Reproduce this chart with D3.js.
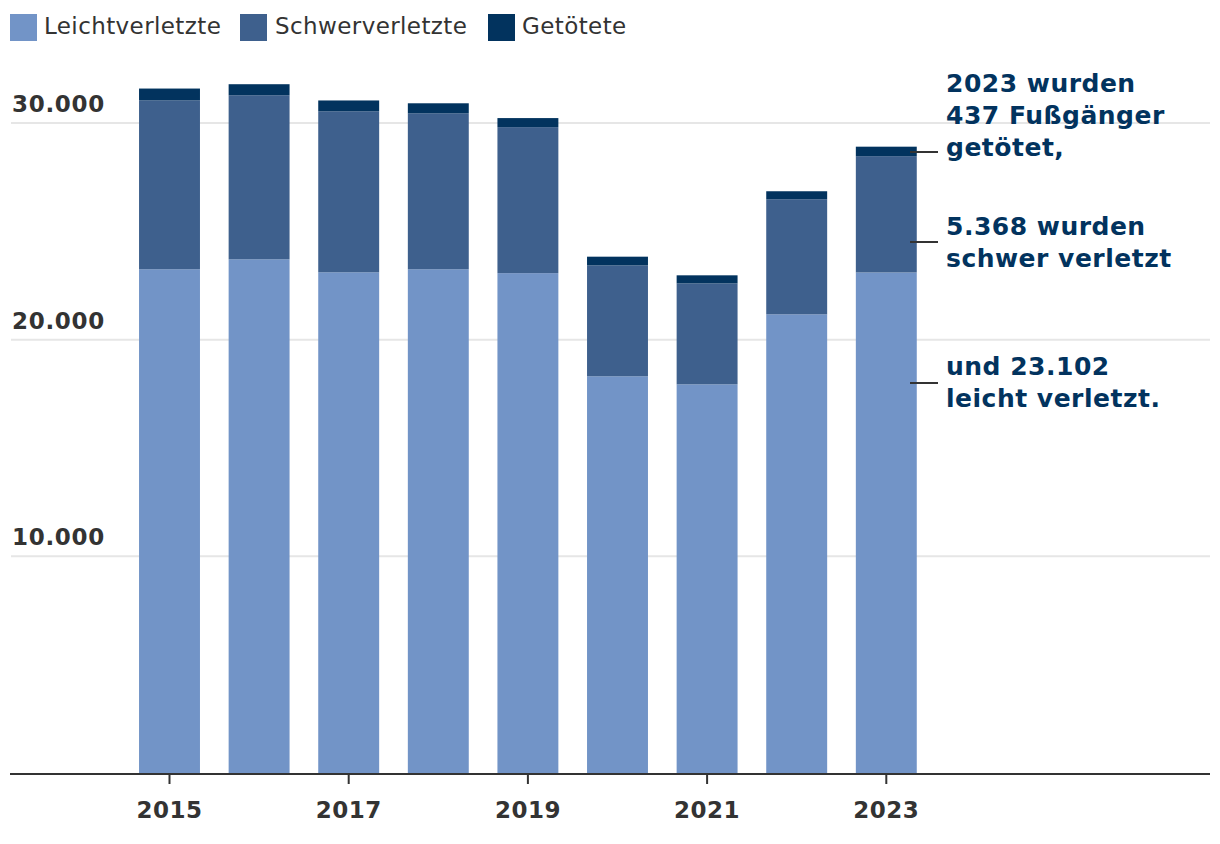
<!DOCTYPE html>
<html>
<head>
<meta charset="utf-8">
<script src="https://cdn.jsdelivr.net/npm/d3@7"></script>
<style>
  body { margin: 0; background: #fff; }
  svg { font-family: "DejaVu Sans", Verdana, sans-serif; }
</style>
</head>
<body>
<svg id="chart"></svg>
<script>
// Fußgänger-Verunglückte in Deutschland, 2015-2023
const years = [2015, 2016, 2017, 2018, 2019, 2020, 2021, 2022, 2023];
const leicht = [23250, 23710, 23110, 23250, 23070, 18310, 17940, 21170, 23102];
const schwer = [7800, 7570, 7430, 7200, 6740, 5120, 4660, 5310, 5368];
const getoetet = [540, 510, 500, 460, 417, 400, 370, 370, 437];
const seriesNames = ['Leichtverletzte', 'Schwerverletzte', 'Getötete'];
const yTicks = [10000, 20000, 30000];
const xTickYears = [2015, 2017, 2019, 2021, 2023];

const colors = ['#7294c7', '#3e608d', '#02335e'];
const ink = '#333333';
const navy = '#02335e';

const width = 1220, height = 844;
const svg = d3.select('#chart').attr('width', width).attr('height', height);

const table = years.map((y, i) => ({ year: y, s0: leicht[i], s1: schwer[i], s2: getoetet[i] }));
const stack = d3.stack().keys(['s0', 's1', 's2']);
const stacked = stack(table);

const xScale = d3.scaleBand()
    .domain(years)
    .range([124.7, 931.1])
    .paddingInner(0.32)
    .paddingOuter(0.16);

const yScale = d3.scaleLinear()
    .domain([0, 30000])
    .range([773, 123]);

// gridlines + y labels
const grid = svg.append('g');
grid.selectAll('line')
  .data(yTicks)
  .join('line')
    .attr('x1', 11).attr('x2', 1210)
    .attr('y1', d => yScale(d)).attr('y2', d => yScale(d))
    .attr('stroke', '#e6e6e6').attr('stroke-width', 2);

const fmt = d3.formatLocale({ decimal: ',', thousands: '.', grouping: [3], currency: ['', '€'] }).format(',');
grid.selectAll('text')
  .data(yTicks)
  .join('text')
    .attr('x', 12)
    .attr('y', d => yScale(d) - 11)
    .attr('font-size', 23).attr('font-weight', 'bold').attr('fill', ink)
    .attr('letter-spacing', 0.7)
    .text(d => fmt(d));

// bars
svg.append('g').selectAll('g')
  .data(stacked)
  .join('g')
    .attr('fill', (d, i) => colors[i])
  .selectAll('rect')
  .data(d => d)
  .join('rect')
    .attr('x', d => xScale(d.data.year))
    .attr('width', xScale.bandwidth())
    .attr('y', d => yScale(d[1]))
    .attr('height', d => yScale(d[0]) - yScale(d[1]));

// x axis
const axisG = svg.append('g');
axisG.append('line')
    .attr('x1', 10).attr('x2', 1210)
    .attr('y1', 774).attr('y2', 774)
    .attr('stroke', ink).attr('stroke-width', 2);
const ticks = axisG.selectAll('g.tick')
  .data(xTickYears)
  .join('g')
    .attr('class', 'tick')
    .attr('transform', d => `translate(${xScale(d) + xScale.bandwidth() / 2},0)`);
ticks.append('line')
    .attr('y1', 774).attr('y2', 784)
    .attr('stroke', ink).attr('stroke-width', 2);
ticks.append('text')
    .attr('y', 818)
    .attr('text-anchor', 'middle')
    .attr('font-size', 23).attr('font-weight', 'bold').attr('fill', ink)
    .attr('letter-spacing', 0.5)
    .text(d => d);

// legend
const legendX = [[10, 44], [240, 275], [488, 522]];
const legend = svg.append('g').selectAll('g')
  .data(seriesNames)
  .join('g');
legend.append('rect')
    .attr('x', (d, i) => legendX[i][0]).attr('y', 14)
    .attr('width', 27).attr('height', 27)
    .attr('fill', (d, i) => colors[i]);
legend.append('text')
    .attr('x', (d, i) => legendX[i][1]).attr('y', 34)
    .attr('font-size', 23).attr('fill', ink)
    .attr('letter-spacing', 0.4)
    .text(d => d);

// annotations for 2023
const notes = [
  { lines: ['2023 wurden', '437 Fußgänger', 'getötet,'], y: 92, lead: 152 },
  { lines: ['5.368 wurden', 'schwer verletzt'], y: 235, lead: 242 },
  { lines: ['und 23.102', 'leicht verletzt.'], y: 375, lead: 383 }
];
const ann = svg.append('g').selectAll('g')
  .data(notes)
  .join('g');
ann.append('line')
    .attr('x1', 910).attr('x2', 938)
    .attr('y1', d => d.lead).attr('y2', d => d.lead)
    .attr('stroke', ink).attr('stroke-width', 2);
ann.append('text')
    .attr('font-size', 25).attr('font-weight', 'bold').attr('fill', navy)
    .attr('letter-spacing', 0.5)
  .selectAll('tspan')
  .data(d => d.lines.map((l, i) => ({ l, y: d.y + i * 32 })))
  .join('tspan')
    .attr('x', 946)
    .attr('y', d => d.y)
    .text(d => d.l);
</script>
</body>
</html>
